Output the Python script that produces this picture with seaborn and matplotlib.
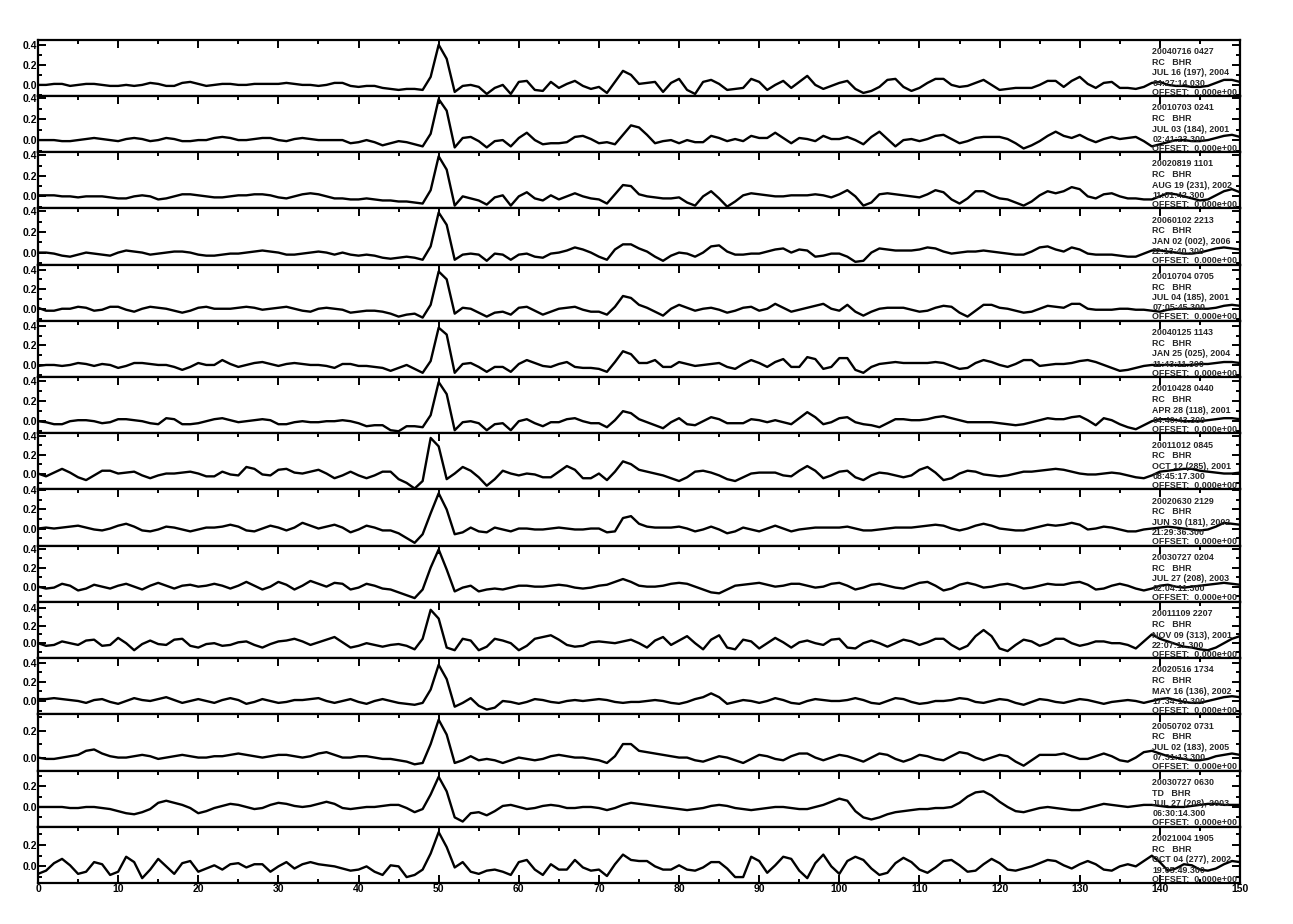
import numpy as np
import pandas as pd
import matplotlib
matplotlib.use("Agg")
import matplotlib.pyplot as plt
import seaborn as sns
from matplotlib.ticker import MultipleLocator

# receiver functions, one sample per second, 0..150 s
times = np.arange(0, 151, 1.0)

rf_01 = [0.00, 0.00, 0.01, 0.01, -0.01, 0.00, 0.01, 0.01, 0.00, -0.01, -0.01, 0.00, -0.01, 0.00, 0.02, 0.01, -0.01, -0.01, 0.02, 0.03,
         0.01, -0.01, 0.00, 0.01, 0.01, 0.00, 0.00, 0.01, 0.01, 0.01, 0.01, 0.02, 0.01, 0.00, 0.00, -0.01, 0.00, 0.02, 0.02, -0.01,
         -0.02, -0.01, -0.01, -0.03, -0.04, -0.05, -0.04, -0.04, -0.05, 0.08, 0.40, 0.26, -0.07, -0.01, 0.00, -0.02, -0.09, -0.03, 0.00, -0.09,
         0.03, 0.04, -0.05, -0.06, 0.03, -0.03, 0.01, 0.04, -0.01, -0.04, -0.02, -0.08, 0.03, 0.14, 0.10, 0.01, 0.02, 0.03, -0.07, 0.02,
         0.06, -0.05, -0.09, 0.03, 0.05, 0.01, -0.05, -0.04, -0.03, 0.06, 0.03, -0.05, 0.00, 0.04, -0.03, 0.03, 0.09, 0.00, -0.04, -0.01,
         0.02, 0.04, -0.04, -0.08, -0.06, -0.02, 0.05, 0.06, -0.02, -0.06, -0.03, 0.02, 0.06, 0.06, 0.00, -0.02, -0.01, 0.02, 0.05, 0.00,
         -0.05, -0.04, -0.03, -0.03, -0.03, 0.00, 0.04, 0.04, -0.02, 0.04, 0.08, 0.01, -0.03, 0.02, 0.03, -0.03, -0.03, -0.04, -0.02, 0.02,
         0.03, 0.00, -0.01, -0.01, -0.02, -0.02, -0.01, 0.02, 0.05, 0.05, 0.03]
rf_02 = [0.00, 0.00, 0.00, -0.01, -0.01, 0.00, 0.01, 0.02, 0.01, 0.00, -0.01, 0.01, 0.02, 0.01, -0.01, 0.00, 0.02, 0.01, -0.01, -0.01,
         0.00, 0.00, 0.02, 0.03, 0.02, 0.00, 0.00, 0.01, 0.02, 0.02, 0.00, -0.01, 0.01, 0.02, 0.01, 0.00, 0.00, 0.00, 0.00, -0.03,
         -0.02, 0.00, -0.02, -0.05, -0.03, -0.01, -0.02, -0.04, -0.06, 0.06, 0.39, 0.28, -0.07, 0.02, 0.03, -0.01, -0.07, -0.01, 0.00, -0.06,
         0.02, 0.07, 0.00, -0.04, -0.03, -0.03, -0.02, 0.03, 0.04, 0.01, -0.03, -0.02, -0.04, 0.05, 0.14, 0.12, 0.05, -0.03, -0.01, 0.00,
         -0.03, 0.00, -0.02, -0.02, 0.04, 0.02, -0.01, 0.01, -0.01, 0.04, 0.02, 0.02, 0.07, 0.02, -0.03, 0.02, 0.01, -0.01, 0.04, 0.01,
         0.01, 0.03, 0.00, -0.04, 0.03, 0.08, 0.01, -0.06, 0.00, 0.01, -0.01, 0.01, 0.04, 0.05, 0.01, -0.03, -0.01, 0.02, 0.03, 0.03,
         0.03, 0.01, -0.03, -0.08, -0.05, -0.01, 0.04, 0.08, 0.04, 0.02, 0.05, 0.01, -0.02, 0.01, 0.03, 0.01, 0.02, 0.03, -0.01, -0.06,
         -0.04, -0.02, 0.00, 0.00, -0.01, -0.01, 0.00, 0.02, 0.04, 0.05, 0.03]
rf_03 = [0.01, 0.01, 0.01, 0.00, 0.00, -0.01, 0.00, 0.00, 0.00, -0.01, -0.02, -0.02, 0.00, 0.01, 0.00, -0.03, -0.02, 0.00, 0.02, 0.02,
         0.01, 0.00, -0.01, -0.01, 0.00, 0.01, 0.01, 0.02, 0.02, 0.01, -0.01, -0.02, 0.00, 0.02, 0.03, 0.02, 0.00, -0.02, -0.02, -0.03,
         -0.03, -0.02, -0.03, -0.04, -0.04, -0.05, -0.05, -0.06, -0.07, 0.06, 0.39, 0.26, -0.09, 0.00, -0.02, -0.04, -0.08, -0.01, 0.01, -0.09,
         0.00, 0.04, -0.02, -0.04, 0.01, -0.03, 0.00, 0.03, 0.00, -0.02, -0.03, -0.07, 0.02, 0.11, 0.10, 0.02, 0.00, -0.01, -0.02, -0.02,
         -0.01, -0.06, -0.09, 0.00, 0.05, -0.02, -0.10, -0.05, 0.01, 0.03, 0.02, 0.01, 0.00, 0.00, 0.01, 0.01, 0.01, 0.02, 0.01, -0.01,
         0.02, 0.06, 0.00, -0.09, -0.06, 0.02, 0.03, 0.02, 0.01, 0.00, -0.01, 0.02, 0.06, 0.04, -0.03, -0.07, -0.02, 0.05, 0.05, 0.01,
         -0.02, -0.03, -0.06, -0.09, -0.05, 0.01, 0.05, 0.03, 0.05, 0.09, 0.07, 0.00, -0.02, 0.02, 0.03, 0.00, -0.02, -0.02, -0.03, -0.03,
         0.00, 0.03, 0.02, 0.00, -0.02, -0.04, -0.03, 0.01, 0.05, 0.07, 0.04]
rf_04 = [0.00, 0.00, -0.01, -0.03, -0.04, -0.02, 0.00, -0.01, -0.02, -0.03, 0.00, 0.02, 0.01, 0.00, -0.02, -0.01, 0.00, 0.01, 0.01, 0.00,
         -0.02, -0.03, -0.03, -0.02, -0.01, -0.01, 0.00, 0.01, 0.02, 0.01, 0.00, -0.02, -0.02, -0.01, 0.00, 0.01, 0.00, -0.02, 0.00, -0.02,
         -0.03, -0.02, -0.03, -0.05, -0.06, -0.05, -0.04, -0.05, -0.07, 0.06, 0.39, 0.27, -0.07, -0.02, -0.01, -0.02, -0.08, -0.01, -0.02, -0.07,
         -0.02, -0.01, -0.04, -0.05, -0.01, 0.00, 0.02, 0.05, 0.03, 0.00, -0.04, -0.07, 0.03, 0.08, 0.08, 0.04, 0.01, -0.04, -0.08, -0.03,
         0.00, -0.01, -0.04, 0.00, 0.06, 0.07, 0.01, -0.02, -0.02, -0.01, -0.01, 0.01, 0.03, 0.04, 0.00, 0.03, 0.02, -0.04, -0.03, -0.01,
         -0.01, -0.04, -0.09, -0.08, 0.00, 0.04, 0.03, 0.02, 0.02, 0.02, 0.03, 0.05, 0.04, 0.01, -0.01, 0.00, 0.01, 0.01, 0.02, 0.01,
         0.00, -0.01, -0.02, -0.02, 0.01, 0.05, 0.06, 0.03, 0.01, 0.05, 0.03, -0.01, -0.02, -0.02, -0.02, -0.03, -0.04, -0.04, -0.01, 0.02,
         0.02, 0.01, 0.00, -0.01, -0.01, 0.00, 0.02, 0.04, 0.05, 0.04, 0.03]
rf_05 = [0.01, -0.02, -0.02, 0.00, 0.00, 0.02, 0.01, -0.02, -0.01, 0.02, 0.02, -0.01, -0.03, 0.00, 0.02, 0.01, 0.00, -0.02, -0.04, -0.02,
         0.01, 0.02, 0.00, 0.00, 0.00, 0.01, 0.02, 0.01, -0.01, 0.00, 0.01, 0.02, 0.00, -0.02, -0.03, 0.00, 0.01, 0.00, -0.01, -0.04,
         -0.03, -0.02, -0.02, -0.03, -0.05, -0.08, -0.06, -0.05, -0.09, 0.04, 0.38, 0.30, -0.05, 0.01, 0.00, -0.04, -0.08, -0.04, -0.03, -0.06,
         0.01, 0.02, -0.02, -0.06, -0.03, 0.00, 0.01, 0.02, -0.01, -0.03, -0.03, -0.06, 0.02, 0.13, 0.11, 0.04, 0.01, -0.03, -0.07, 0.00,
         0.04, 0.01, -0.02, 0.00, 0.01, -0.01, -0.04, -0.02, 0.01, 0.02, -0.02, 0.00, 0.05, 0.01, -0.03, -0.01, 0.01, 0.03, 0.05, 0.00,
         -0.02, 0.04, -0.03, -0.07, -0.03, 0.00, 0.01, 0.01, 0.01, -0.01, -0.03, -0.02, 0.01, 0.03, 0.02, -0.04, -0.08, -0.02, 0.04, 0.04,
         0.01, 0.00, -0.02, -0.04, -0.03, 0.00, 0.03, 0.02, 0.01, 0.05, 0.05, 0.00, -0.01, -0.01, -0.01, 0.00, 0.00, -0.01, -0.01, -0.02,
         -0.03, -0.01, 0.00, 0.00, 0.00, 0.00, 0.00, 0.01, 0.03, 0.04, 0.03]
rf_06 = [-0.01, 0.00, 0.00, -0.01, 0.00, 0.02, 0.01, -0.01, 0.01, 0.00, -0.03, -0.01, 0.02, 0.02, 0.01, 0.00, 0.00, -0.02, -0.05, -0.02,
         0.02, 0.00, 0.00, 0.05, 0.01, -0.02, 0.00, 0.02, 0.03, 0.01, -0.01, 0.01, 0.02, 0.01, 0.00, 0.00, -0.01, -0.03, 0.01, 0.01,
         -0.01, -0.01, -0.02, -0.03, -0.06, -0.03, 0.00, -0.04, -0.08, 0.04, 0.38, 0.31, -0.08, 0.01, 0.02, -0.02, -0.07, -0.02, -0.02, -0.07,
         0.01, 0.05, 0.02, -0.01, -0.02, 0.01, 0.03, -0.02, -0.03, -0.03, -0.04, -0.07, 0.03, 0.14, 0.11, 0.02, 0.02, 0.05, -0.02, -0.02,
         0.03, 0.01, -0.01, 0.00, 0.01, 0.02, -0.02, -0.04, 0.01, 0.05, 0.02, -0.02, 0.03, 0.06, -0.02, -0.02, 0.08, 0.06, -0.04, -0.02,
         0.07, 0.07, -0.05, -0.08, -0.02, 0.01, 0.02, 0.03, 0.02, 0.02, 0.02, 0.02, 0.03, 0.02, -0.01, -0.04, -0.03, 0.02, 0.05, 0.03,
         0.00, -0.02, 0.01, 0.05, 0.05, -0.01, 0.00, 0.01, 0.01, 0.02, 0.04, 0.05, 0.03, 0.00, -0.03, -0.06, -0.05, -0.03, -0.01, 0.00,
         0.00, 0.00, 0.00, 0.00, 0.00, 0.01, 0.01, 0.02, 0.03, 0.03, 0.02]
rf_07 = [0.00, -0.01, -0.03, -0.03, 0.00, 0.01, 0.01, 0.00, -0.02, -0.01, 0.02, 0.02, 0.01, 0.00, -0.02, -0.03, 0.03, 0.02, -0.03, -0.03,
         -0.02, 0.00, 0.02, 0.03, 0.01, -0.01, 0.00, 0.01, 0.02, 0.01, -0.03, -0.03, -0.01, 0.00, -0.01, -0.01, 0.00, 0.00, 0.01, 0.00,
         -0.02, -0.05, -0.04, -0.04, -0.09, -0.10, -0.05, -0.05, -0.06, 0.06, 0.39, 0.27, -0.09, -0.01, 0.00, -0.02, -0.09, -0.03, -0.02, -0.09,
         0.00, 0.02, -0.02, -0.05, -0.01, -0.01, 0.02, 0.03, 0.00, -0.02, -0.02, -0.06, 0.01, 0.10, 0.08, 0.02, -0.01, -0.04, -0.07, -0.01,
         0.03, -0.03, -0.04, 0.00, 0.04, 0.02, -0.02, -0.02, -0.02, 0.02, 0.01, -0.01, 0.01, -0.01, -0.03, 0.03, 0.09, 0.04, -0.03, -0.01,
         0.03, 0.04, -0.01, -0.03, -0.04, -0.06, -0.02, 0.02, 0.02, 0.01, 0.01, 0.02, 0.04, 0.05, 0.03, 0.01, -0.01, -0.01, -0.01, -0.01,
         -0.02, -0.03, -0.04, -0.03, -0.01, 0.01, 0.03, 0.02, 0.02, 0.04, 0.05, 0.01, -0.04, 0.03, 0.01, -0.03, -0.06, -0.08, -0.04, 0.00,
         0.02, 0.02, 0.01, 0.00, 0.00, 0.00, 0.01, 0.02, 0.03, 0.03, 0.02]
rf_08 = [0.00, -0.03, 0.01, 0.05, 0.01, -0.04, -0.07, -0.02, 0.03, 0.03, 0.00, 0.01, 0.02, -0.02, -0.05, -0.02, 0.00, 0.00, 0.01, 0.02,
         0.00, -0.03, -0.03, 0.02, -0.01, -0.02, 0.07, 0.05, -0.01, -0.02, 0.04, 0.05, 0.01, 0.00, 0.02, 0.04, 0.00, -0.05, -0.02, 0.02,
         -0.02, -0.05, -0.02, 0.02, 0.02, -0.06, -0.10, -0.16, -0.08, 0.38, 0.29, -0.06, 0.00, 0.07, 0.03, -0.04, -0.13, -0.06, 0.03, 0.00,
         -0.02, 0.00, -0.01, -0.04, -0.04, 0.02, 0.08, 0.04, -0.05, -0.05, 0.00, -0.07, 0.02, 0.13, 0.10, 0.04, 0.02, 0.00, -0.02, -0.05,
         -0.08, -0.04, 0.02, 0.03, 0.01, -0.02, -0.06, -0.08, -0.04, 0.00, 0.01, 0.01, 0.01, -0.02, -0.03, 0.03, 0.08, 0.03, -0.05, -0.02,
         0.02, 0.03, -0.04, -0.07, -0.02, 0.01, 0.00, -0.02, -0.04, -0.02, 0.04, 0.07, 0.01, -0.07, -0.05, 0.00, 0.03, 0.02, -0.01, -0.02,
         -0.03, -0.02, 0.00, 0.02, 0.02, 0.03, 0.04, 0.05, 0.04, 0.02, 0.00, -0.01, -0.01, 0.00, 0.01, 0.00, -0.02, -0.04, -0.05, -0.02,
         0.02, 0.03, 0.04, 0.05, 0.05, 0.03, 0.02, 0.01, 0.00, 0.00, 0.01]
rf_09 = [0.00, 0.01, 0.00, 0.01, 0.02, 0.03, 0.01, -0.01, -0.02, 0.00, 0.03, 0.05, 0.02, -0.02, -0.03, -0.01, 0.02, 0.01, -0.01, -0.03,
         -0.01, 0.01, 0.01, 0.02, 0.04, 0.02, -0.02, -0.03, 0.00, 0.03, 0.01, -0.02, 0.01, 0.06, 0.03, 0.00, 0.02, 0.04, 0.01, -0.04,
         -0.01, 0.03, 0.01, -0.02, -0.02, -0.05, -0.10, -0.15, -0.06, 0.16, 0.37, 0.20, -0.06, -0.04, 0.01, -0.03, -0.04, 0.01, -0.01, -0.03,
         0.00, 0.00, -0.01, -0.01, 0.00, 0.01, 0.00, -0.01, -0.01, 0.00, 0.00, -0.04, -0.03, 0.11, 0.13, 0.05, 0.02, 0.01, 0.01, 0.01,
         0.02, 0.00, -0.03, -0.01, 0.02, -0.01, -0.05, -0.03, 0.01, -0.01, -0.03, 0.00, 0.03, 0.00, -0.03, -0.01, 0.00, 0.01, 0.01, 0.01,
         0.01, 0.02, 0.00, -0.02, -0.02, -0.01, 0.00, 0.01, 0.01, 0.01, 0.02, 0.03, 0.04, 0.03, 0.00, -0.02, 0.00, 0.03, 0.05, 0.03,
         0.00, -0.01, -0.02, -0.02, 0.00, 0.02, 0.04, 0.03, 0.04, 0.06, 0.04, -0.01, 0.00, 0.02, 0.01, -0.01, -0.03, -0.03, -0.01, 0.00,
         0.01, 0.02, 0.01, 0.00, -0.01, -0.02, -0.01, 0.02, 0.06, 0.05, 0.04]
rf_10 = [0.00, -0.02, -0.01, 0.03, 0.01, -0.04, -0.02, 0.02, 0.00, -0.02, 0.01, 0.03, 0.00, -0.03, 0.01, 0.04, 0.01, -0.02, 0.01, 0.02,
         0.00, 0.01, 0.03, 0.01, -0.02, 0.01, 0.05, 0.01, -0.03, 0.00, 0.05, 0.02, -0.03, 0.01, 0.06, 0.03, 0.00, 0.04, 0.03, -0.03,
         -0.01, 0.03, 0.01, -0.02, -0.03, -0.06, -0.09, -0.12, -0.03, 0.20, 0.39, 0.18, -0.05, -0.01, 0.01, -0.05, -0.03, -0.02, -0.03, -0.01,
         0.01, 0.01, 0.00, 0.00, 0.01, 0.02, 0.01, -0.01, -0.02, -0.01, 0.01, 0.02, 0.05, 0.08, 0.05, 0.01, 0.00, 0.00, 0.01, 0.03,
         0.04, 0.03, 0.00, -0.03, -0.06, -0.07, -0.03, 0.01, 0.02, 0.03, 0.04, 0.02, 0.00, 0.01, 0.03, 0.03, 0.01, -0.01, 0.00, 0.03,
         0.04, 0.01, -0.03, -0.01, 0.02, 0.03, 0.01, -0.01, -0.02, 0.01, 0.04, 0.05, 0.01, -0.04, -0.02, 0.02, 0.04, 0.02, -0.01, 0.00,
         0.02, 0.03, 0.01, -0.02, -0.01, 0.01, 0.03, 0.02, 0.02, 0.04, 0.05, 0.02, -0.03, -0.02, 0.01, 0.03, 0.01, -0.02, -0.04, -0.02,
         0.01, 0.02, 0.00, -0.01, 0.00, 0.01, 0.02, 0.03, 0.04, 0.03, 0.02]
rf_11 = [0.00, -0.03, -0.02, 0.02, 0.00, -0.02, 0.03, 0.04, -0.03, -0.02, 0.06, 0.00, -0.08, -0.01, 0.03, -0.01, -0.02, 0.04, 0.05, -0.03,
         -0.05, -0.01, 0.00, -0.03, -0.02, 0.01, 0.02, -0.02, -0.05, -0.01, 0.02, 0.03, 0.05, 0.02, -0.02, 0.01, 0.04, 0.07, 0.01, -0.05,
         -0.03, 0.00, -0.02, -0.04, -0.02, -0.01, -0.03, -0.07, 0.05, 0.38, 0.28, -0.05, -0.08, 0.05, 0.03, -0.08, -0.04, 0.05, 0.03, 0.00,
         -0.08, -0.03, 0.05, 0.07, 0.09, 0.04, -0.02, -0.04, -0.03, 0.01, 0.02, 0.01, 0.00, 0.02, 0.04, 0.00, -0.05, 0.03, 0.07, -0.02,
         0.03, 0.08, 0.00, -0.07, 0.04, 0.09, -0.05, -0.07, 0.04, 0.02, -0.06, 0.00, 0.06, 0.01, -0.05, 0.01, 0.03, 0.00, -0.02, 0.04,
         0.05, -0.05, -0.06, 0.00, 0.03, 0.00, -0.04, 0.00, 0.04, 0.02, -0.02, 0.01, 0.05, 0.05, -0.02, -0.07, -0.03, 0.08, 0.15, 0.08,
         -0.06, -0.09, -0.02, 0.04, 0.02, -0.03, 0.00, 0.05, 0.05, 0.00, -0.03, -0.01, 0.02, 0.02, 0.00, 0.00, -0.02, -0.06, 0.02, 0.10,
         0.05, 0.02, -0.01, -0.04, -0.05, -0.07, -0.08, -0.05, 0.00, 0.05, 0.08]
rf_12 = [0.02, 0.02, 0.03, 0.02, 0.01, 0.00, -0.02, 0.01, 0.02, -0.01, -0.03, 0.00, 0.03, 0.01, 0.00, 0.02, 0.04, 0.01, -0.02, 0.00,
         0.02, 0.00, -0.02, 0.01, 0.03, 0.01, -0.03, -0.01, 0.02, 0.00, -0.02, -0.01, 0.01, 0.01, 0.02, 0.03, 0.00, -0.02, 0.00, 0.02,
         -0.01, -0.03, 0.00, 0.02, 0.00, -0.02, -0.03, -0.04, -0.02, 0.12, 0.38, 0.23, -0.06, -0.02, 0.03, -0.05, -0.09, -0.07, 0.00, -0.01,
         -0.03, -0.01, 0.02, 0.01, -0.01, -0.02, 0.00, 0.01, 0.00, 0.01, 0.02, 0.01, -0.01, -0.02, -0.01, -0.01, 0.00, 0.01, 0.00, -0.02,
         -0.03, -0.01, 0.02, 0.04, 0.08, 0.04, -0.03, -0.01, 0.01, 0.00, -0.02, 0.00, 0.03, 0.01, -0.02, -0.03, 0.00, 0.02, 0.01, 0.00,
         0.00, 0.01, 0.03, 0.01, -0.02, -0.03, 0.00, 0.03, 0.02, -0.01, -0.03, -0.02, 0.00, 0.00, 0.01, 0.03, 0.02, -0.01, -0.02, 0.00,
         0.02, 0.01, -0.02, -0.04, -0.01, 0.02, 0.01, -0.01, -0.02, 0.00, 0.02, 0.01, -0.01, -0.03, -0.01, 0.00, 0.01, 0.00, -0.02, 0.00,
         0.02, 0.03, 0.01, -0.01, -0.02, -0.02, 0.00, 0.02, 0.04, 0.05, 0.04]
rf_13 = [0.00, -0.01, -0.01, 0.00, 0.01, 0.02, 0.05, 0.06, 0.03, 0.01, 0.00, 0.00, 0.01, 0.02, 0.01, -0.01, 0.00, 0.01, 0.02, 0.01,
         0.00, 0.00, 0.01, 0.01, 0.02, 0.03, 0.02, 0.01, 0.00, 0.01, 0.02, 0.02, 0.01, 0.00, 0.01, 0.03, 0.04, 0.02, 0.00, 0.00,
         0.01, 0.01, 0.00, -0.01, -0.01, -0.02, -0.03, -0.05, -0.04, 0.10, 0.28, 0.17, -0.04, -0.02, 0.01, -0.02, -0.01, -0.02, -0.04, -0.02,
         0.00, -0.01, -0.02, -0.01, 0.01, 0.02, 0.01, 0.00, 0.00, -0.01, -0.02, -0.04, 0.01, 0.10, 0.10, 0.05, 0.04, 0.03, 0.02, 0.01,
         0.00, 0.00, -0.02, -0.03, -0.01, 0.01, 0.00, -0.02, -0.04, -0.01, 0.02, 0.01, -0.01, -0.02, 0.01, 0.03, 0.03, 0.00, -0.02, 0.00,
         0.02, 0.01, -0.01, -0.03, 0.00, 0.03, 0.02, -0.01, -0.03, -0.01, 0.02, 0.01, -0.01, -0.02, 0.01, 0.04, 0.03, 0.00, -0.02, 0.00,
         0.02, 0.01, -0.03, -0.06, -0.02, 0.02, 0.02, 0.02, 0.03, 0.01, -0.01, -0.01, 0.01, 0.03, 0.01, -0.02, -0.03, 0.00, 0.04, 0.05,
         0.03, 0.01, 0.00, -0.01, -0.02, -0.02, -0.01, 0.01, 0.02, 0.03, 0.02]
rf_14 = [0.00, 0.00, 0.00, 0.00, -0.01, -0.01, 0.00, 0.00, -0.01, -0.02, -0.04, -0.06, -0.07, -0.05, -0.02, 0.04, 0.06, 0.04, 0.02, -0.01,
         -0.06, -0.04, -0.01, 0.01, 0.03, 0.02, 0.00, -0.02, -0.01, 0.02, 0.04, 0.03, 0.01, 0.00, 0.01, 0.03, 0.05, 0.03, -0.01, -0.02,
         -0.01, 0.00, 0.00, 0.01, 0.02, 0.02, -0.01, -0.05, -0.02, 0.12, 0.29, 0.15, -0.10, -0.14, -0.06, -0.05, -0.08, -0.04, 0.01, 0.02,
         0.00, -0.02, -0.01, 0.01, 0.02, 0.01, -0.01, -0.01, 0.00, 0.00, -0.01, -0.03, -0.01, 0.02, 0.04, 0.03, 0.02, 0.01, 0.00, -0.01,
         -0.02, -0.03, -0.02, -0.01, 0.01, 0.02, 0.01, -0.01, -0.02, -0.03, -0.02, -0.01, 0.00, 0.00, -0.01, -0.02, -0.02, 0.00, 0.02, 0.05,
         0.08, 0.06, -0.04, -0.10, -0.12, -0.10, -0.07, -0.05, -0.04, -0.03, -0.02, -0.02, -0.01, -0.01, 0.00, 0.04, 0.10, 0.14, 0.15, 0.11,
         0.05, 0.00, -0.04, -0.05, -0.03, -0.01, 0.00, -0.01, -0.02, -0.03, -0.03, -0.01, 0.01, 0.03, 0.02, 0.01, 0.00, 0.01, 0.02, 0.02,
         0.01, 0.00, 0.00, 0.00, 0.01, 0.02, 0.03, 0.03, 0.02, 0.02, 0.02]
rf_15 = [-0.07, -0.04, 0.03, 0.07, 0.01, -0.07, -0.05, 0.04, 0.02, -0.08, -0.05, 0.09, 0.04, -0.11, -0.03, 0.07, 0.00, -0.07, 0.03, 0.05,
         -0.05, -0.02, 0.01, -0.03, 0.02, 0.03, -0.01, 0.02, 0.02, -0.05, 0.00, 0.04, -0.02, 0.02, 0.04, 0.02, 0.01, 0.00, -0.02, -0.04,
         -0.03, 0.00, -0.05, -0.08, 0.01, 0.00, -0.10, -0.08, -0.03, 0.12, 0.32, 0.18, -0.01, 0.04, -0.05, -0.07, -0.04, -0.03, -0.05, -0.08,
         0.04, 0.06, -0.03, -0.08, 0.02, -0.03, -0.03, 0.06, -0.01, -0.04, -0.03, -0.09, 0.02, 0.11, 0.06, 0.05, 0.05, 0.00, -0.03, -0.03,
         0.01, -0.03, -0.04, -0.01, 0.04, 0.04, -0.02, -0.10, -0.10, 0.09, 0.05, -0.06, 0.01, 0.09, 0.07, -0.04, -0.11, 0.03, 0.11, 0.00,
         -0.07, 0.05, 0.09, 0.06, -0.02, -0.08, -0.06, 0.03, 0.08, 0.04, -0.03, -0.06, -0.01, 0.05, 0.06, 0.01, -0.05, -0.04, 0.02, 0.07,
         0.03, -0.03, -0.04, -0.02, 0.00, 0.03, 0.06, 0.05, 0.01, -0.02, 0.02, 0.05, 0.02, -0.03, -0.04, 0.00, 0.02, 0.00, 0.05, 0.10,
         0.04, -0.04, -0.02, 0.02, 0.01, -0.03, -0.04, -0.02, 0.02, 0.05, 0.04]

traces = [rf_01, rf_02, rf_03, rf_04, rf_05, rf_06, rf_07, rf_08,
          rf_09, rf_10, rf_11, rf_12, rf_13, rf_14, rf_15]

# header lines printed beside each trace
event_ids = ["20040716 0427", "20010703 0241", "20020819 1101", "20060102 2213", "20010704 0705",
             "20040125 1143", "20010428 0440", "20011012 0845", "20020630 2129", "20030727 0204",
             "20011109 2207", "20020516 1734", "20050702 0731", "20030727 0630", "20021004 1905"]
stations = ["RC   BHR"] * 13 + ["TD   BHR", "RC   BHR"]
dates = ["JUL 16 (197), 2004", "JUL 03 (184), 2001", "AUG 19 (231), 2002", "JAN 02 (002), 2006",
         "JUL 04 (185), 2001", "JAN 25 (025), 2004", "APR 28 (118), 2001", "OCT 12 (285), 2001",
         "JUN 30 (181), 2002", "JUL 27 (208), 2003", "NOV 09 (313), 2001", "MAY 16 (136), 2002",
         "JUL 02 (183), 2005", "JUL 27 (208), 2003", "OCT 04 (277), 2002"]
clock = ["04:27:14.030", "02:41:23.300", "11:01:42.300", "22:13:40.300", "07:05:45.300",
         "11:43:11.300", "04:40:43.300", "08:45:17.300", "21:29:36.300", "02:04:11.300",
         "22:07:11.300", "17:34:10.300", "07:31:13.300", "06:30:14.300", "19:05:49.300"]
offsets = ["OFFSET:  0.000e+00"] * 15

y_limits = [(-0.11, 0.45), (-0.115, 0.42), (-0.117, 0.43), (-0.117, 0.43), (-0.123, 0.45),
            (-0.123, 0.45), (-0.12, 0.44), (-0.17, 0.43), (-0.18, 0.41), (-0.16, 0.43),
            (-0.17, 0.47), (-0.14, 0.45), (-0.096, 0.32), (-0.19, 0.35), (-0.155, 0.37)]

sns.set_style("ticks")
plt.rcParams['font.family'] = ['Liberation Sans', 'DejaVu Sans']
plt.rcParams['font.weight'] = 'bold'

fig, axes = plt.subplots(len(traces), 1, figsize=(12.93, 9.24), dpi=100, sharex=True)
fig.subplots_adjust(left=0.0294, right=0.959, top=0.957, bottom=0.0444, hspace=0)

for i, ax in enumerate(axes):
    df = pd.DataFrame({"time": times, "amp": traces[i]})
    sns.lineplot(data=df, x="time", y="amp", ax=ax, color="black", linewidth=1.7)
    ax.set_xlim(0, 150)
    ax.set_ylim(*y_limits[i])
    ax.set_xlabel("")
    ax.set_ylabel("")
    ax.xaxis.set_major_locator(MultipleLocator(10))
    ax.xaxis.set_minor_locator(MultipleLocator(5))
    ax.yaxis.set_major_locator(MultipleLocator(0.2))
    ax.yaxis.set_minor_locator(MultipleLocator(0.1))
    last = i == len(traces) - 1
    ax.tick_params(which="both", direction="in", top=True, right=True,
                   bottom=last, labelbottom=last, width=1.4, colors="black")
    ax.tick_params(which="major", length=6, pad=1, labelsize=7.5)
    ax.tick_params(which="minor", length=3)
    ax.yaxis.set_major_formatter(plt.FuncFormatter(lambda v, p: f"{v:.1f}"))
    for s in ax.spines.values():
        s.set_linewidth(1.6)
        s.set_color("black")

    lines = [event_ids[i], stations[i], dates[i], clock[i], offsets[i]]
    for txt, yy in zip(lines, [0.79, 0.60, 0.41, 0.23, 0.07]):
        ax.text(0.927, yy, txt, transform=ax.transAxes, fontsize=6.4,
                fontweight="bold", va="center", ha="left")

for lab in axes[-1].get_xticklabels():
    lab.set_fontsize(7.5)
    lab.set_fontweight("bold")

fig.savefig("out.png", dpi=100)
